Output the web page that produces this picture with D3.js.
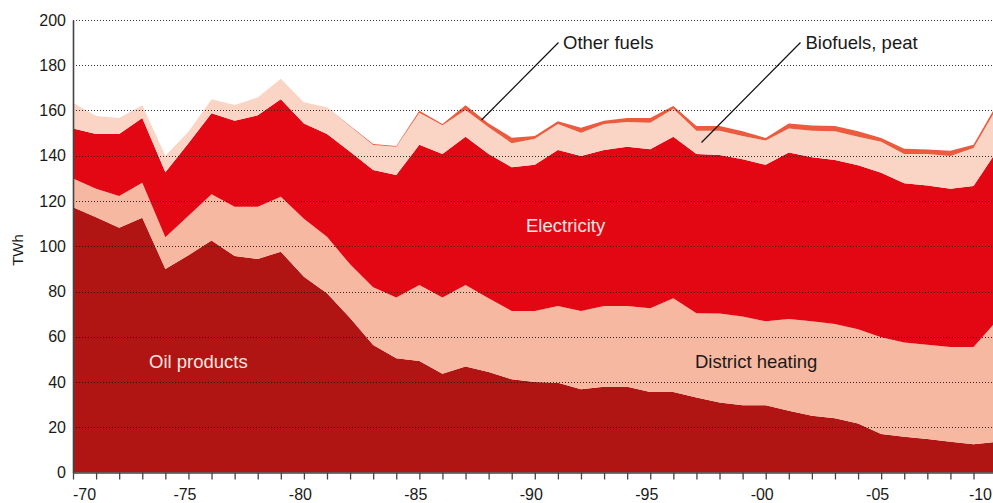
<!DOCTYPE html>
<html>
<head>
<meta charset="utf-8">
<script src="https://cdn.jsdelivr.net/npm/d3@7"></script>
<style>
  body { margin: 0; background: #fff; }
  svg { display: block; font-family: "Liberation Sans", Arial, Helvetica, sans-serif; }
</style>
</head>
<body>
<div id="chart"></div>
<script>
// years on the x axis
const years = [1970, 1971, 1972, 1973, 1974, 1975, 1976, 1977, 1978, 1979,
               1980, 1981, 1982, 1983, 1984, 1985, 1986, 1987, 1988, 1989,
               1990, 1991, 1992, 1993, 1994, 1995, 1996, 1997, 1998, 1999,
               2000, 2001, 2002, 2003, 2004, 2005, 2006, 2007, 2008, 2009, 2010];

// TWh per year, stacked bottom -> top
const oilProducts = [117.2, 112.8, 108.2, 112.6, 90.0, 96.0, 102.5, 95.7, 94.4, 97.6,
                     86.5, 79.2, 68.3, 56.4, 50.5, 49.3, 43.7, 46.9, 44.4, 41.2,
                     40.0, 39.7, 36.8, 37.9, 37.9, 35.6, 35.6, 33.1, 30.9, 29.7,
                     29.7, 27.3, 25.1, 24.0, 21.7, 17.0, 15.8, 14.8, 13.6, 12.5, 13.5];
const districtHeating = [12.7, 12.6, 14.0, 15.5, 14.0, 17.5, 20.5, 21.8, 23.1, 24.3,
                         25.7, 25.0, 23.7, 25.5, 26.8, 33.6, 33.6, 36.0, 32.6, 30.2,
                         31.4, 33.9, 34.6, 35.7, 35.7, 37.0, 41.4, 37.3, 39.4, 39.3,
                         37.1, 40.5, 41.7, 41.6, 41.6, 42.8, 41.7, 41.7, 41.9, 43.0, 53.5];
const electricity = [22.1, 24.2, 27.4, 28.6, 28.7, 32.0, 35.8, 38.0, 40.4, 43.1,
                     42.1, 45.4, 49.8, 51.8, 54.2, 62.0, 63.5, 65.5, 63.8, 63.5,
                     64.6, 68.9, 68.5, 68.9, 70.4, 70.3, 71.4, 70.4, 70.0, 69.4,
                     69.2, 73.6, 72.5, 72.5, 72.5, 72.7, 70.3, 70.4, 69.9, 71.1, 75.0];
const biofuelsPeat = [11.4, 8.0, 7.1, 5.6, 7.3, 5.1, 6.2, 6.9, 7.9, 9.0,
                      9.3, 11.8, 11.2, 11.1, 12.5, 14.1, 12.7, 11.8, 11.8, 10.6,
                      11.5, 11.5, 10.3, 11.5, 10.9, 11.7, 12.4, 10.3, 10.8, 10.3,
                      10.7, 10.6, 11.8, 12.7, 12.6, 13.7, 13.0, 13.9, 14.5, 16.8, 19.0];
const otherFuels = [0, 0, 0, 0, 0, 0, 0, 0, 0, 0,
                    0, 0, 0.3, 0.4, 0.3, 0.9, 0.5, 2.1, 1.7, 2.5,
                    1.2, 1.2, 2.2, 1.5, 1.8, 2.1, 1.2, 2.0, 2.0, 2.1,
                    1.1, 2.3, 2.3, 2.3, 2.4, 1.6, 2.3, 2.0, 2.3, 1.5, 1.5];

const seriesKeys = ["oil", "district", "electricity", "bio", "other"];
const seriesColors = {
    oil: "#b01513",
    district: "#f6b8a0",
    electricity: "#e30613",
    bio: "#fad5c5",
    other: "#ea5b3f"
};

const yTicks = [0, 20, 40, 60, 80, 100, 120, 140, 160, 180, 200];
const xLabelYears = [1970, 1975, 1980, 1985, 1990, 1995, 2000, 2005, 2010];

const width = 993, height = 503;

const rows = years.map((yr, i) => ({
    year: yr,
    oil: oilProducts[i],
    district: districtHeating[i],
    electricity: electricity[i],
    bio: biofuelsPeat[i],
    other: otherFuels[i]
}));

const stacked = d3.stack().keys(seriesKeys)(rows);

const x = d3.scaleLinear().domain([1970, 2010]).range([73, 996.6]);
const y = d3.scaleLinear().domain([0, 200]).range([472.5, 20]);

const svg = d3.select("#chart").append("svg")
    .attr("width", width)
    .attr("height", height);

const area = d3.area()
    .x(d => x(d.data.year))
    .y0(d => y(d[0]))
    .y1(d => y(d[1]));

svg.append("g")
    .selectAll("path")
    .data(stacked)
    .enter()
    .append("path")
    .attr("d", area)
    .attr("fill", d => seriesColors[d.key]);

// dotted gridlines, drawn over the areas
svg.append("g")
    .selectAll("line")
    .data(yTicks.filter(t => t > 0))
    .enter()
    .append("line")
    .attr("x1", 73)
    .attr("x2", width)
    .attr("y1", d => Math.round(y(d)) + 0.5)
    .attr("y2", d => Math.round(y(d)) + 0.5)
    .attr("stroke", "#111")
    .attr("stroke-width", 1)
    .attr("stroke-dasharray", "1,2")
    .attr("opacity", 0.85);

// y axis
const yAxis = svg.append("g")
    .attr("transform", "translate(73,0)")
    .call(d3.axisLeft(y).tickValues(yTicks).tickSize(0).tickPadding(7));
yAxis.select(".domain").attr("stroke", "#444").attr("stroke-width", 1.6);
yAxis.selectAll("text")
    .style("font-size", "16px")
    .style("font-family", "Liberation Sans, Arial, sans-serif")
    .attr("fill", "#1a1a1a");

// x axis: a tick every year, labels every five
const xAxis = svg.append("g")
    .attr("transform", "translate(0,472.5)")
    .call(d3.axisBottom(x).tickValues(years).tickSize(7).tickSizeOuter(0).tickFormat(""));
xAxis.select(".domain").attr("stroke", "#444").attr("stroke-width", 1.6);
xAxis.selectAll(".tick line").attr("stroke", "#444").attr("stroke-width", 1.3);

// first and last labels are pulled inside the frame
svg.append("g")
    .selectAll("text")
    .data(xLabelYears)
    .enter()
    .append("text")
    .attr("x", d => d === 2010 ? width - 1 : x(d))
    .attr("y", 500)
    .attr("dx", d => (d === 1970 || d === 2010) ? 0 : -3.5)
    .attr("text-anchor", d => d === 1970 ? "start" : (d === 2010 ? "end" : "middle"))
    .style("font-size", "16px")
    .attr("fill", "#1a1a1a")
    .text(d => "-" + String(d).slice(2));

// axis title
svg.append("text")
    .attr("transform", "translate(23,250) rotate(-90)")
    .attr("text-anchor", "middle")
    .style("font-size", "15px")
    .attr("fill", "#1a1a1a")
    .text("TWh");

// series labels inside the areas
const inLabels = [
    { text: "Oil products", x: 149, y: 368, fill: "#f7e6e3" },
    { text: "District heating", x: 695, y: 368, fill: "#1a1a1a" },
    { text: "Electricity", x: 526, y: 232, fill: "#fbe4e4" }
];
svg.append("g")
    .selectAll("text")
    .data(inLabels)
    .enter()
    .append("text")
    .attr("x", d => d.x)
    .attr("y", d => d.y)
    .attr("fill", d => d.fill)
    .style("font-size", "18.5px")
    .text(d => d.text);

// callout labels with leader lines
const callouts = [
    { text: "Other fuels", tx: 563, ty: 48.5, x1: 558.5, y1: 42.5, x2: 481.5, y2: 120 },
    { text: "Biofuels, peat", tx: 805.5, ty: 48.5, x1: 800.5, y1: 42.5, x2: 701.5, y2: 142.5 }
];
const co = svg.append("g");
co.selectAll("line")
    .data(callouts)
    .enter()
    .append("line")
    .attr("x1", d => d.x1).attr("y1", d => d.y1)
    .attr("x2", d => d.x2).attr("y2", d => d.y2)
    .attr("stroke", "#111")
    .attr("stroke-width", 1.2);
co.selectAll("text")
    .data(callouts)
    .enter()
    .append("text")
    .attr("x", d => d.tx)
    .attr("y", d => d.ty)
    .attr("fill", "#1a1a1a")
    .style("font-size", "18.5px")
    .text(d => d.text);
</script>
</body>
</html>
